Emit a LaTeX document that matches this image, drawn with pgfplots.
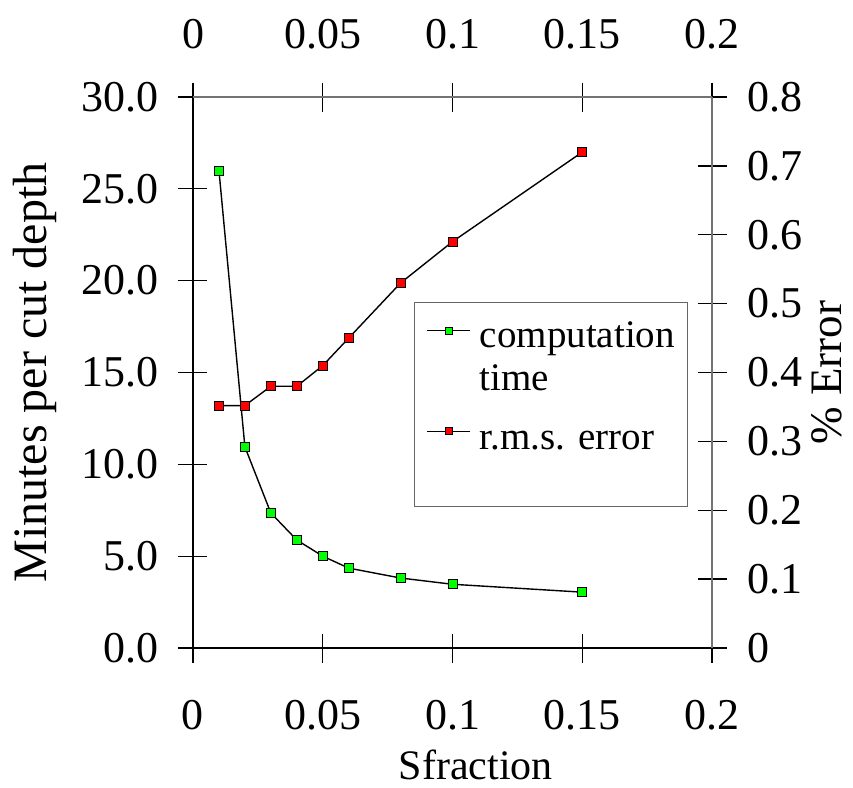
\documentclass[border=0pt]{standalone}
\usepackage{fontspec}
\setmainfont{Liberation Serif}
\usepackage{pgfplots}
\pgfplotsset{compat=1.18}

\definecolor{mkgreen}{HTML}{00FF00}
\definecolor{mkred}{HTML}{FF0000}

\pgfplotsset{
  common/.style={
    scale only axis, width=519pt, height=551pt,
    xmin=0, xmax=0.2,
    xtick={0,0.05,0.1,0.15,0.2},
    scaled ticks=false,
    tick align=center, major tick length=29pt,
    tick style={black, line width=1.3pt},
    axis line style={line width=1.3pt},
    tick label style={font=\fontsize{44}{48}\selectfont},
    /pgf/number format/assume math mode=true,
    xticklabel style={/pgf/number format/fixed},
  },
}

\begin{document}
\fontsize{40}{44}\selectfont
\begin{tikzpicture}
\path[use as bounding box] (-193pt,-139pt) rectangle (660pt,648pt);

\begin{axis}[
  common,
  ymin=0, ymax=30,
  ytick={0,5,10,15,20,25,30},
  axis x line*=bottom, axis y line*=left,
  yticklabel style={xshift=-6pt, /pgf/number format/.cd, fixed, fixed zerofill, precision=1},
  xticklabel style={yshift=-24pt},
  xlabel={Sfraction},
  ylabel={Minutes per cut depth},
  every axis x label/.style={at={(axis description cs:0.545,-0.212)}, anchor=center,
    font=\fontsize{42}{46}\selectfont},
  every axis y label/.style={at={(axis description cs:-0.304,0.5)}, rotate=90, anchor=center,
    inner sep=0pt, font=\fontsize{48}{52}\selectfont},
]
\addplot[black, line width=1.4pt, mark=square*, mark size=4.5pt,
  mark options={fill=mkgreen, draw=black, line width=0.9pt}]
coordinates {
  (0.01,26.0)(0.02,10.95)(0.03,7.35)(0.04,5.88)(0.05,5.0)(0.06,4.35)(0.08,3.81)(0.1,3.47)(0.15,3.04)
};
\end{axis}

\begin{axis}[
  common,
  ymin=0, ymax=0.8,
  ytick={0,0.1,0.2,0.3,0.4,0.5,0.6,0.7,0.8},
  yticklabel style={xshift=7pt, /pgf/number format/fixed},
  xticklabel style={yshift=20pt},
  axis x line*=top, axis y line*=right,
  axis line style={black!55},
  ylabel={\% Error},
  every axis y label/.style={at={(axis description cs:1.222,0.5)}, rotate=90, anchor=center,
    inner sep=0pt, font=\fontsize{45}{49}\selectfont},
  legend style={at={(axis description cs:0.426,0.628)}, anchor=north west,
    draw=black!60, line width=0.9pt, inner xsep=12pt, inner ysep=4pt,
    row sep=8.5pt, column sep=8pt, font=\fontsize{39}{44}\selectfont,
    nodes={inner sep=1pt}, cells={anchor=west}},
  legend image code/.code={
    \draw[#1, mark=none] (0pt,0pt) -- (43pt,0pt);
    \draw[#1, mark size=3.5pt] plot coordinates {(21.5pt,0pt)};
  },
]
\addlegendimage{black, line width=1.4pt, mark=square*, mark options={fill=mkgreen, draw=black, line width=0.8pt}}
\addlegendentry{\rule{0pt}{40pt}computation}
\addlegendimage{empty legend}
\addlegendentry{\rule{0pt}{27pt}time}
\addplot[black, line width=1.4pt, mark=square*, mark size=4.5pt,
  mark options={fill=mkred, draw=black, line width=0.9pt}]
coordinates {
  (0.01,0.352)(0.02,0.352)(0.03,0.38)(0.04,0.38)(0.05,0.41)(0.06,0.45)(0.08,0.53)(0.1,0.59)(0.15,0.72)
};
\addlegendentry{\rule{0pt}{42pt}r.m.s. error}
\addlegendimage{empty legend}
\addlegendentry{\rule{0pt}{30pt}}
\end{axis}
\end{tikzpicture}
\end{document}
